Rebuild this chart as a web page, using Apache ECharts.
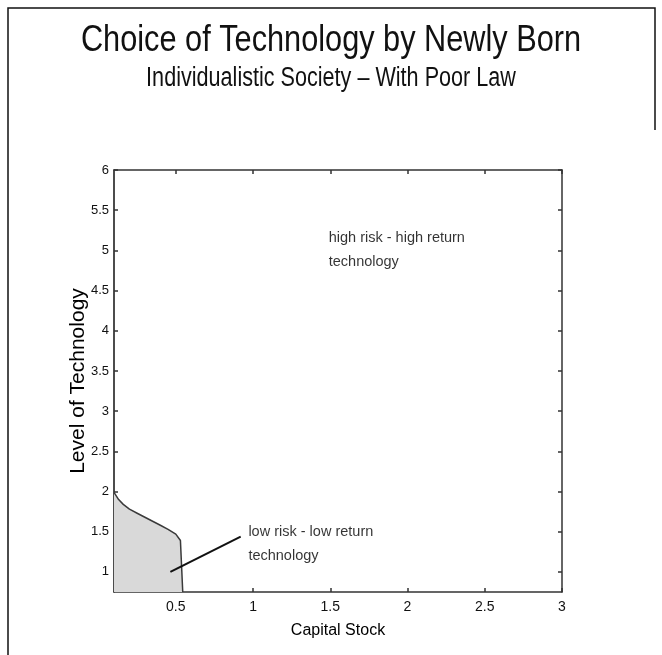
<!DOCTYPE html>
<html><head><meta charset="utf-8">
<script src="https://cdn.jsdelivr.net/npm/echarts@6/dist/echarts.min.js"></script>
<style>html,body{margin:0;padding:0;background:#fff}#c{width:662px;height:655px}</style>
</head><body><div id="c"></div>
<script>
const capitalStock = [0.1, 0.13, 0.16, 0.2, 0.25, 0.3, 0.35, 0.4, 0.45, 0.5, 0.53, 0.545];
const techLevel = [1.99, 1.9, 1.84, 1.78, 1.73, 1.68, 1.63, 1.58, 1.53, 1.47, 1.39, 0.75];
const xTicks = [0.5, 1, 1.5, 2, 2.5, 3];
const yTicks = [1, 1.5, 2, 2.5, 3, 3.5, 4, 4.5, 5, 5.5, 6];
const pointerX = [0.465, 0.92];
const pointerY = [1.0, 1.44];
const noteTexts = ['high risk - high return\ntechnology', 'low risk - low return\ntechnology'];
const noteX = [1.49, 0.97];
const noteY = [5.3, 1.65];
const titleText = 'Choice of Technology by Newly Born';
const subtitleText = 'Individualistic Society – With Poor Law';

const SANS = "'Liberation Sans', Arial, sans-serif";
const AX = '#333';

const chart = echarts.init(document.getElementById('c'), null, {renderer: 'canvas'});
const frameAxis = (pos, isX) => ({
  type: 'value', position: pos,
  min: isX ? 0.1 : 0.75, max: isX ? 3 : 6,
  axisLine: {show: true, onZero: false, lineStyle: {color: AX, width: 1.5}},
  axisTick: {show: true, inside: true, length: 4, customValues: isX ? xTicks : yTicks, lineStyle: {color: AX, width: 1.5}},
  axisLabel: {show: false},
  splitLine: {show: false}
});
chart.setOption({
  animation: false,
  backgroundColor: '#fff',
  grid: {left: 114, top: 170, width: 448, height: 422, containLabel: false},
  xAxis: [
    {type: 'value', position: 'bottom', min: 0.1, max: 3,
     name: 'Capital Stock', nameLocation: 'middle', nameGap: 31, nameMoveOverlap: false,
     nameTextStyle: {fontFamily: SANS, fontSize: 16, color: '#000'},
     axisLine: {show: true, onZero: false, lineStyle: {color: AX, width: 1.5}},
     axisTick: {show: true, inside: true, length: 4, customValues: xTicks, lineStyle: {color: AX, width: 1.5}},
     axisLabel: {show: true, customValues: xTicks, margin: 8, fontFamily: SANS, fontSize: 14, color: '#111'},
     splitLine: {show: false}},
    frameAxis('top', true)
  ],
  yAxis: [
    {type: 'value', position: 'left', min: 0.75, max: 6,
     name: 'Level of Technology', nameLocation: 'middle', nameGap: 25, nameRotate: 90, nameMoveOverlap: false,
     nameTextStyle: {fontFamily: SANS, fontSize: 21, color: '#000'},
     axisLine: {show: true, onZero: false, lineStyle: {color: '#111', width: 1.5}},
     axisTick: {show: true, inside: true, length: 4, customValues: yTicks, lineStyle: {color: AX, width: 1.5}},
     axisLabel: {show: true, customValues: yTicks, margin: 5, fontFamily: SANS, fontSize: 13, color: '#111'},
     splitLine: {show: false}},
    frameAxis('right', false)
  ],
  graphic: [
    {type: 'polyline', shape: {points: [[8, 655], [8, 8], [655, 8], [655, 130]]},
     style: {stroke: '#111', lineWidth: 1.5, fill: null}, silent: true},
    {type: 'text', x: 331, y: 22, scaleX: 0.83, silent: true,
     style: {text: titleText, fontFamily: SANS, fontSize: 37, fill: '#111', textAlign: 'center', textVerticalAlign: 'top'}},
    {type: 'text', x: 331, y: 65, scaleX: 0.8, silent: true,
     style: {text: subtitleText, fontFamily: SANS, fontSize: 27, fill: '#111', textAlign: 'center', textVerticalAlign: 'top'}}
  ],
  series: [
    {type: 'line', xAxisIndex: 0, yAxisIndex: 0, symbol: 'none', silent: true,
     data: capitalStock.map((x, i) => [x, techLevel[i]]),
     lineStyle: {color: '#3a3a3a', width: 1.5},
     areaStyle: {color: '#d9d9d9', opacity: 1, origin: 'start'}},
    {type: 'line', xAxisIndex: 0, yAxisIndex: 0, symbol: 'none', silent: true,
     data: pointerX.map((x, i) => [x, pointerY[i]]),
     lineStyle: {color: '#111', width: 2}},
    {type: 'scatter', xAxisIndex: 0, yAxisIndex: 0, symbolSize: 0, silent: true,
     data: noteTexts.map((t, i) => ({name: t, value: [noteX[i], noteY[i]]})),
     label: {show: true, position: [0, 0], align: 'left', verticalAlign: 'top',
       formatter: p => p.name, fontFamily: SANS, fontSize: 14.5, lineHeight: 24, color: '#000'}}
  ]
});
</script></body></html>
